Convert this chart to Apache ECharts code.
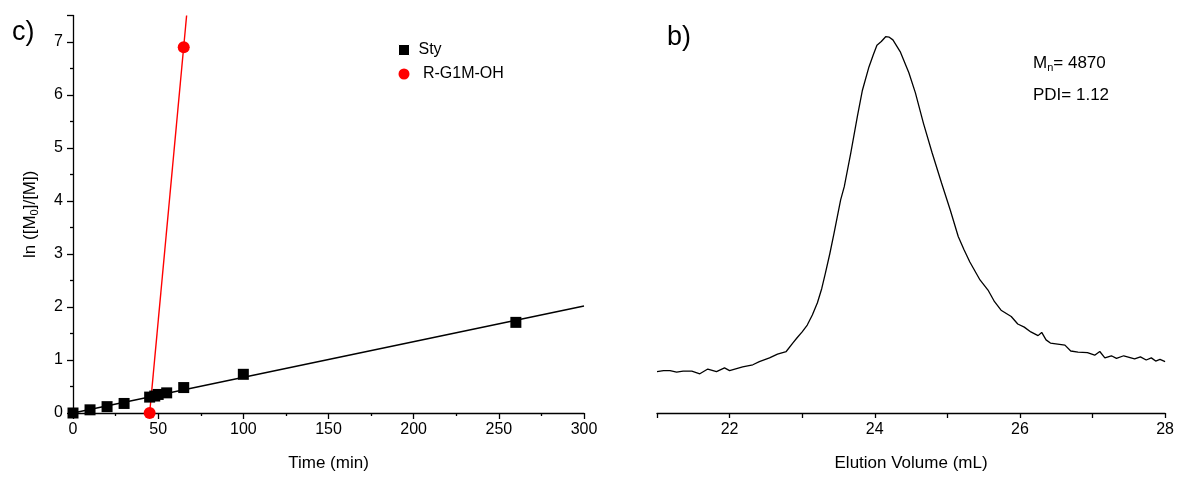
<!DOCTYPE html>
<html>
<head>
<meta charset="utf-8">
<script src="https://cdn.jsdelivr.net/npm/echarts@6/dist/echarts.min.js"></script>
<style>
html,body{margin:0;padding:0;background:#fff;}
#chart{width:1177px;height:477px;}
</style>
</head>
<body>
<div id="chart"></div>
<script>
// ---- Data (left panel c: kinetics) ----
const styTime = [0, 10, 20, 30, 45, 48, 50, 55, 65, 100, 260];
const styLnM = [0.00, 0.06, 0.12, 0.18, 0.30, 0.32, 0.35, 0.38, 0.48, 0.73, 1.71];
const styFitX = [0, 300];
const styFitY = [0.00, 2.02];
const rgTime = [45, 65];
const rgLnM = [0.00, 6.90];
const rgFitX = [45, 66.7];
const rgFitY = [0.00, 7.50];
const xTicksLeft = [0, 50, 100, 150, 200, 250, 300];
const yTicksLeft = [0, 1, 2, 3, 4, 5, 6, 7];

// ---- Data (right panel b: GPC trace) ----
const elutionVol = [21.00, 21.09, 21.18, 21.27, 21.36, 21.48, 21.59, 21.70, 21.82, 21.93, 22.00, 22.18, 22.32, 22.41, 22.55, 22.66, 22.78, 22.87, 22.93, 23.00, 23.07, 23.14, 23.21, 23.27, 23.32, 23.38, 23.44, 23.53, 23.58, 23.67, 23.76, 23.83, 23.92, 23.98, 24.03, 24.09, 24.15, 24.20, 24.25, 24.35, 24.47, 24.56, 24.67, 24.79, 24.92, 25.04, 25.15, 25.23, 25.31, 25.45, 25.56, 25.65, 25.74, 25.88, 25.97, 26.06, 26.15, 26.25, 26.30, 26.36, 26.42, 26.52, 26.62, 26.70, 26.80, 26.93, 27.03, 27.10, 27.17, 27.26, 27.33, 27.43, 27.58, 27.66, 27.74, 27.81, 27.87, 27.93, 28.00];
const signal = [0.78, 0.80, 0.80, 0.77, 0.79, 0.79, 0.74, 0.83, 0.78, 0.85, 0.80, 0.87, 0.91, 0.97, 1.04, 1.11, 1.16, 1.32, 1.42, 1.53, 1.66, 1.85, 2.08, 2.35, 2.64, 3.00, 3.40, 4.02, 4.27, 4.91, 5.59, 6.09, 6.53, 6.76, 6.94, 7.01, 7.10, 7.09, 7.04, 6.82, 6.42, 6.04, 5.47, 4.91, 4.34, 3.83, 3.33, 3.08, 2.85, 2.51, 2.32, 2.10, 1.94, 1.82, 1.68, 1.62, 1.53, 1.46, 1.52, 1.38, 1.32, 1.30, 1.28, 1.17, 1.15, 1.14, 1.09, 1.16, 1.04, 1.08, 1.03, 1.08, 1.02, 1.06, 1.00, 1.04, 0.98, 1.01, 0.97];
const xTicksRight = [22, 24, 26, 28];

const FONT = '"Liberation Sans", Arial, sans-serif';
const pairs = (xs, ys) => xs.map((x, i) => [x, ys[i]]);

const chart = echarts.init(document.getElementById('chart'), null, {renderer: 'canvas'});
const axisLineStyle = {color: '#000', width: 1.3};

chart.setOption({
  animation: false,
  backgroundColor: '#fff',
  grid: [
    {left: 73, right: 593, top: 15.5, bottom: 64},
    {left: 657, right: 9, top: 15.5, bottom: 64}
  ],
  legend: {
    data: [
      {name: 'Sty', icon: 'rect', itemStyle: {borderColor: '#fff', borderWidth: 1}},
      {name: 'R-G1M-OH', icon: 'circle'}
    ],
    orient: 'vertical',
    left: 393,
    top: 37,
    itemWidth: 11,
    itemHeight: 11,
    itemGap: 8,
    textStyle: {fontFamily: FONT, fontSize: 16, color: '#000', padding: [0, 0, 0, 4]},
    formatter: n => n === 'R-G1M-OH' ? ' ' + n : n
  },
  xAxis: [
    {
      gridIndex: 0, type: 'value', min: 0, max: 300, interval: 50,
      name: 'Time (min)', nameLocation: 'middle', nameGap: 42,
      nameTextStyle: {fontFamily: FONT, fontSize: 17, color: '#000'},
      axisLine: {lineStyle: axisLineStyle},
      axisTick: {show: true, inside: false, length: 6, lineStyle: axisLineStyle},
      minorTick: {show: true, splitNumber: 2, length: 3, lineStyle: {color: '#000', width: 1.3}},
      axisLabel: {fontFamily: FONT, fontSize: 16, color: '#000', margin: 9,
        formatter: v => xTicksLeft.includes(v) ? String(v) : ''},
      splitLine: {show: false}
    },
    {
      gridIndex: 1, type: 'value', min: 21, max: 28, interval: 1,
      name: 'Elution Volume (mL)', nameLocation: 'middle', nameGap: 42,
      nameTextStyle: {fontFamily: FONT, fontSize: 17, color: '#000'},
      axisLine: {lineStyle: axisLineStyle},
      axisTick: {show: true, inside: false, length: 5, lineStyle: axisLineStyle},
      axisLabel: {fontFamily: FONT, fontSize: 16, color: '#000', margin: 9,
        showMinLabel: true, showMaxLabel: true,
        formatter: v => xTicksRight.includes(v) ? String(v) : ''},
      splitLine: {show: false}
    }
  ],
  yAxis: [
    {
      gridIndex: 0, type: 'value', min: 0, max: 7.5, interval: 1,
      name: '{a|ln ([M}{s|0}{a|]/[M])}', nameLocation: 'middle', nameGap: 32, nameRotate: 90,
      nameTextStyle: {fontFamily: FONT, fontSize: 17, color: '#000',
        rich: {
          a: {fontFamily: FONT, fontSize: 17, color: '#000', lineHeight: 22},
          s: {fontFamily: FONT, fontSize: 11, color: '#000', lineHeight: 22, padding: [9, 0, 0, 0]}
        }},
      axisLine: {show: true, lineStyle: axisLineStyle},
      axisTick: {show: true, inside: false, length: 6, lineStyle: axisLineStyle},
      minorTick: {show: true, splitNumber: 2, length: 3, lineStyle: {color: '#000', width: 1.3}},
      axisLabel: {fontFamily: FONT, fontSize: 16, color: '#000', margin: 10, showMaxLabel: false,
        formatter: v => yTicksLeft.includes(v) ? String(v) : ''},
      splitLine: {show: false}
    },
    {
      gridIndex: 1, type: 'value', min: 0, max: 7.5, show: false
    }
  ],
  series: [
    {
      name: 'Sty fit', type: 'line', xAxisIndex: 0, yAxisIndex: 0,
      data: pairs(styFitX, styFitY), showSymbol: false, symbol: 'none',
      lineStyle: {color: '#000', width: 1.4}, clip: true, z: 2
    },
    {
      name: 'R-G1M-OH fit', type: 'line', xAxisIndex: 0, yAxisIndex: 0,
      data: pairs(rgFitX, rgFitY), showSymbol: false, symbol: 'none',
      lineStyle: {color: '#ff0000', width: 1.4}, clip: true, z: 2
    },
    {
      name: 'Sty', type: 'scatter', xAxisIndex: 0, yAxisIndex: 0,
      data: pairs(styTime, styLnM), symbol: 'rect', symbolSize: 11,
      itemStyle: {color: '#000', opacity: 1}, z: 3
    },
    {
      name: 'R-G1M-OH', type: 'scatter', xAxisIndex: 0, yAxisIndex: 0,
      data: pairs(rgTime, rgLnM), symbol: 'circle', symbolSize: 12,
      itemStyle: {color: '#ff0000', opacity: 1}, z: 3
    },
    {
      name: 'GPC', type: 'line', xAxisIndex: 1, yAxisIndex: 1,
      data: pairs(elutionVol, signal), showSymbol: false, symbol: 'none',
      lineStyle: {color: '#000', width: 1.3}
    }
  ],
  graphic: [
    {type: 'text', left: 12, top: 19, style: {text: 'c)', font: '27px ' + FONT, fill: '#000'}},
    {type: 'text', left: 667, top: 24, style: {text: 'b)', font: '27px ' + FONT, fill: '#000'}},
    {type: 'text', left: 1033, top: 54, style: {
      text: '{a|M}{s|n}{a|= 4870}',
      rich: {
        a: {fontFamily: FONT, fontSize: 17, fill: '#000', lineHeight: 20},
        s: {fontFamily: FONT, fontSize: 11, fill: '#000', lineHeight: 20, padding: [8, 0, 0, 0]}
      }}},
    {type: 'text', left: 1033, top: 87, style: {text: 'PDI= 1.12', font: '17px ' + FONT, fill: '#000'}}
  ]
});
</script>
</body>
</html>
